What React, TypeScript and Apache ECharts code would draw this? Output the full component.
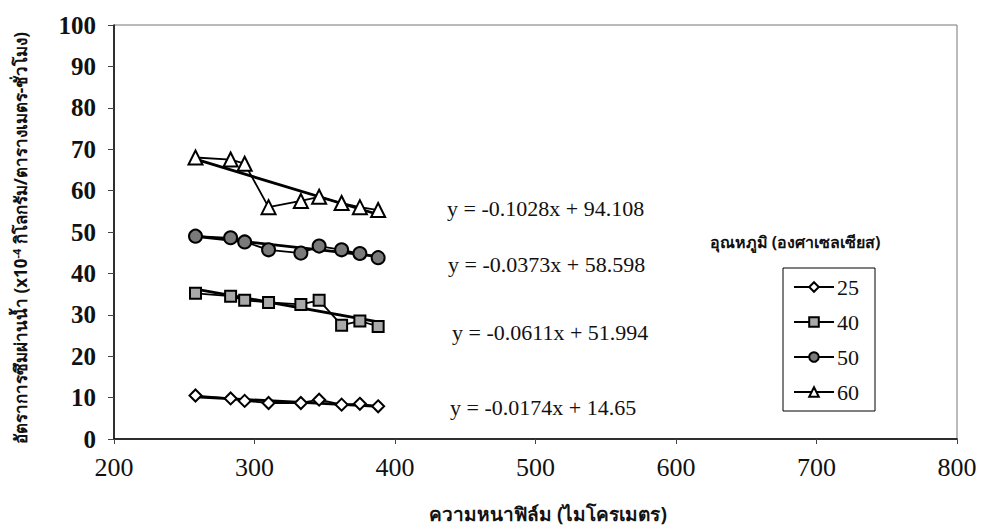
import React, { useEffect, useRef } from "react";
import * as echarts from "echarts";

// Film thickness (micrometres)
const thickness = [258, 283, 293, 310, 333, 346, 362, 375, 388];
// Water vapour transmission rate (x10^-4 kg/m2-h) per temperature
const temps = ["25", "40", "50", "60"];
const rate25 = [10.5, 9.8, 9.2, 8.7, 8.7, 9.5, 8.3, 8.5, 7.9];
const rate40 = [35.2, 34.5, 33.5, 33, 32.5, 33.5, 27.5, 28.5, 27.2];
const rate50 = [49, 48.6, 47.6, 45.7, 44.9, 46.6, 45.7, 44.8, 43.8];
const rate60 = [68, 67.5, 66.5, 56, 57.5, 58.5, 57, 56, 55.3];
// Linear trend lines (from the chart's equations)
const slopes = [-0.0174, -0.0611, -0.0373, -0.1028];
const intercepts = [14.65, 51.994, 58.598, 94.108];
const equationTexts = [
  "y = -0.0174x + 14.65",
  "y = -0.0611x + 51.994",
  "y = -0.0373x + 58.598",
  "y = -0.1028x + 94.108",
];
const xTicks = [200, 800, 100];
const yTicks = [0, 100, 10];

const serif = "'Liberation Serif', 'Times New Roman', serif";
const thai = "Tahoma, 'Noto Sans', 'DejaVu Sans', sans-serif";

export default function App() {
  const ref = useRef<HTMLDivElement>(null);
  useEffect(() => {
    document.body.style.margin = "0";
    const chart = echarts.init(ref.current!, null, { renderer: "svg" });
    const rates = [rate25, rate40, rate50, rate60];
    const symbols = ["diamond", "rect", "circle", "triangle"];
    const sizes = [12, 11, 13, 14];
    const fills = ["#ffffff", "#a9a9a9", "#7a7a7a", "#ffffff"];
    const dataSeries = temps.map((t, i) => ({
      name: t,
      type: "line",
      data: thickness.map((x, j) => [x, rates[i][j]]),
      symbol: symbols[i],
      symbolSize: sizes[i],
      lineStyle: { color: "#000", width: 1.8 },
      itemStyle: { color: fills[i], borderColor: "#000", borderWidth: 2 },
      z: 3,
    }));
    const xMin = Math.min(...thickness);
    const xMax = Math.max(...thickness);
    const trendSeries = temps.map((t, i) => ({
      name: "trend" + t,
      type: "line",
      data: [
        [xMin, slopes[i] * xMin + intercepts[i]],
        [xMax, slopes[i] * xMax + intercepts[i]],
      ],
      symbol: "none",
      lineStyle: { color: "#000", width: 2.8 },
      silent: true,
      z: 2,
    }));
    const eqPos = [
      [450, 408],
      [452, 333],
      [448, 265],
      [447, 209],
    ];
    chart.setOption({
      animation: false,
      backgroundColor: "#fff",
      grid: {
        left: 114,
        right: 25,
        top: 25,
        bottom: 92,
        show: true,
        borderColor: "#777",
        borderWidth: 1,
        backgroundColor: "transparent",
      },
      xAxis: {
        type: "value",
        min: xTicks[0],
        max: xTicks[1],
        interval: xTicks[2],
        axisLine: { lineStyle: { color: "#000", width: 1.5 } },
        axisTick: { show: true, length: 5, lineStyle: { color: "#444" } },
        splitLine: { show: false },
        axisLabel: { color: "#111", fontFamily: serif, fontSize: 26, margin: 15 },
      },
      yAxis: {
        type: "value",
        min: yTicks[0],
        max: yTicks[1],
        interval: yTicks[2],
        axisLine: { show: true, lineStyle: { color: "#000", width: 1.5 } },
        axisTick: { show: true, length: 6, lineStyle: { color: "#444" } },
        splitLine: { show: false },
        axisLabel: {
          color: "#111",
          fontFamily: serif,
          fontSize: 25,
          fontWeight: "bold",
          margin: 18,
        },
      },
      legend: {
        data: temps,
        orient: "vertical",
        left: 783,
        top: 268,
        padding: [8, 16, 8, 10],
        itemGap: 13,
        itemWidth: 40,
        itemHeight: 12,
        borderColor: "#000",
        borderWidth: 1,
        backgroundColor: "#fff",
        textStyle: { fontFamily: serif, fontSize: 22, color: "#111", padding: [0, 0, 0, -2] },
      },
      graphic: [
        ...equationTexts.map((txt, i) => ({
          type: "text",
          left: eqPos[i][0],
          top: eqPos[i][1] - 12,
          style: { text: txt, font: `22px ${serif}`, fill: "#111" },
        })),
        {
          type: "text",
          x: 795,
          y: 242,
          style: {
            text: "อุณหภูมิ (องศาเซลเซียส)",
            font: `bold 16px ${thai}`,
            fill: "#111",
            align: "center",
            verticalAlign: "middle",
          },
        },
        {
          type: "text",
          x: 548,
          y: 514,
          style: {
            text: "ความหนาฟิล์ม (ไมโครเมตร)",
            font: `bold 19px ${thai}`,
            fill: "#111",
            align: "center",
            verticalAlign: "middle",
          },
        },
        {
          type: "text",
          x: 20,
          y: 238,
          rotation: Math.PI / 2,
          style: {
            text: "{a|อัตราการซึมผ่านน้ำ (x10}{s|-4}{a| กิโลกรัม/ตารางเมตร-ชั่วโมง)}",
            align: "center",
            verticalAlign: "middle",
            fill: "#111",
            rich: {
              a: { font: `bold 17px ${thai}`, fill: "#111" },
              s: { font: `bold 11px ${thai}`, fill: "#111", verticalAlign: "top", padding: [0, 0, 8, 0] },
            },
          },
        },
      ],
      series: [...trendSeries, ...dataSeries],
    });
    return () => chart.dispose();
  }, []);
  return <div ref={ref} style={{ width: 982, height: 531 }} />;
}
